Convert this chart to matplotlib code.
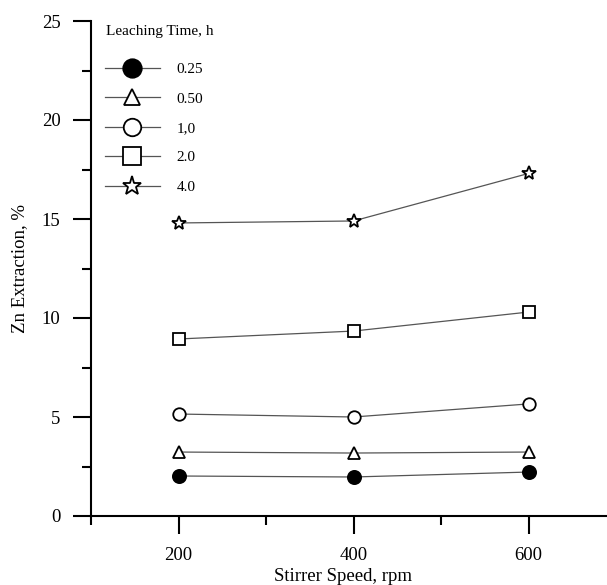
import matplotlib
matplotlib.use("Agg")
import matplotlib.pyplot as plt
from matplotlib.ticker import MultipleLocator

# data
speed = [200, 400, 600]
labels = ["0.25", "0.50", "1,0", "2.0", "4.0"]
zn_025 = [2.02, 1.97, 2.22]
zn_050 = [3.23, 3.18, 3.23]
zn_10 = [5.15, 5.0, 5.66]
zn_20 = [8.94, 9.34, 10.3]
zn_40 = [14.8, 14.9, 17.3]

plt.rcParams['font.family'] = ['Liberation Serif', 'DejaVu Serif']

fig = plt.figure(figsize=(6.07, 5.85), dpi=100)
ax = fig.add_axes([91/607, 69/585, 525/607, 495/585])

series = [zn_025, zn_050, zn_10, zn_20, zn_40]
markers = ['o', '^', 'o', 's', '*']
faces = ['black', 'white', 'white', 'white', 'white']
sizes = [9.5, 8, 9, 9, 10]
for y, m, fc, ms, lab in zip(series, markers, faces, sizes, labels):
    ax.plot(speed, y, color='#555555', lw=0.9, marker=m, ms=ms,
            mfc=fc, mec='black', mew=1.3, label=lab)

ax.set_xlim(100, 700)
ax.set_ylim(0, 25)
ax.xaxis.set_major_locator(MultipleLocator(200))
ax.xaxis.set_minor_locator(MultipleLocator(100))
ax.yaxis.set_major_locator(MultipleLocator(5))
ax.yaxis.set_minor_locator(MultipleLocator(2.5))

for s in ['top', 'right']:
    ax.spines[s].set_visible(False)
for s in ['left', 'bottom']:
    ax.spines[s].set_linewidth(1.5)
ax.tick_params(which='major', length=13, width=1.5, labelsize=13.5, pad=9)
ax.tick_params(which='minor', length=6.5, width=1.5)

ax.set_xlabel('Stirrer Speed, rpm', fontsize=13.5)
ax.xaxis.set_label_coords(0.48, -0.105)
ax.set_ylabel('Zn Extraction, %', fontsize=13.5)
ax.yaxis.set_label_coords(-0.12, 0.5)

# legend title placed as plain text, entries below it
ax.text(0.029, 0.978, 'Leaching Time, h', transform=ax.transAxes,
        fontsize=11, va='center', ha='left')
leg = ax.legend(loc='upper left', bbox_to_anchor=(0.0, 0.944), frameon=False,
                fontsize=11, handlelength=3.6, markerscale=1.4,
                labelspacing=1.03, handletextpad=1.1)

fig.savefig('out.png', dpi=100)
